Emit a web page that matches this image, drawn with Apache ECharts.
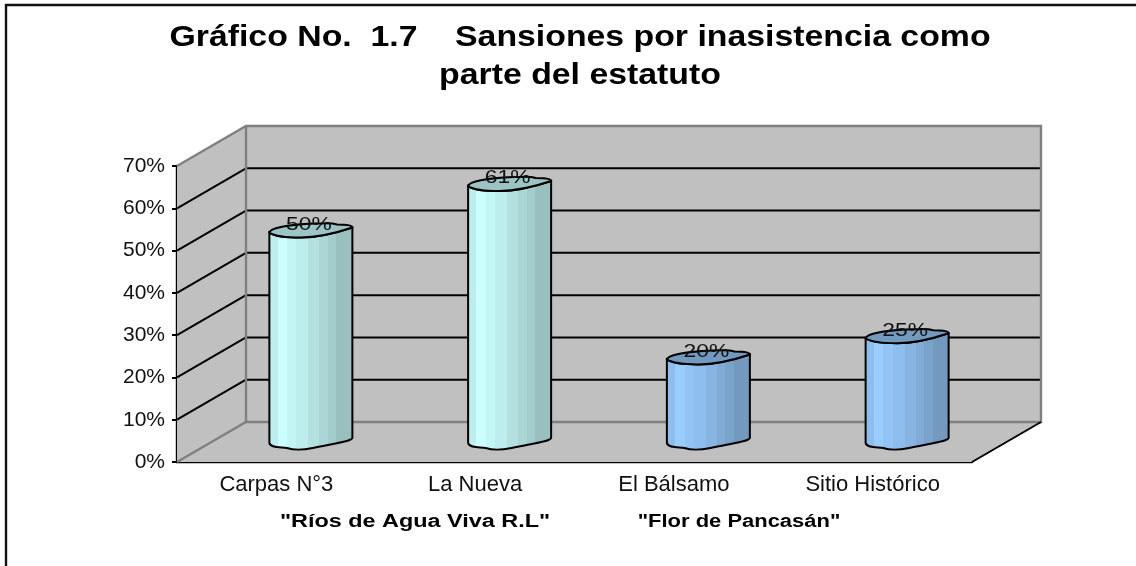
<!DOCTYPE html>
<html>
<head>
<meta charset="utf-8">
<title>Sansiones por inasistencia</title>
<style>
  html, body { margin: 0; padding: 0; background: #fff; }
  #chart { width: 1136px; height: 566px; }
</style>
</head>
<body>
<div id="chart"></div>
<script src="https://cdn.jsdelivr.net/npm/echarts@6/dist/echarts.min.js"></script>
<script>
const categories = ['Carpas N°3', 'La Nueva', 'El Bálsamo', 'Sitio Histórico']
const values = [50, 61, 20, 25]
const barKinds = [0, 0, 1, 1]
const yTicks = [10, 20, 30, 40, 50, 60, 70]
const titleText = 'Gráfico No.  1.7    Sansiones por inasistencia como\nparte del estatuto'
const groupNames = ['"Ríos de Agua Viva R.L"', '"Flor de Pancasán"']

const FONT = '"Liberation Sans", Arial, sans-serif'
// corrimiento de la pared del fondo respecto al plano frontal
const DEPTH_X = 69
const DEPTH_Y = -40
const BAR_HALF = 41.5
const bodyStripes = [
  [0.93, 0.11], [1, 0.22], [0.96, 0.33], [0.93, 0.47],
  [0.88, 0.6], [0.84, 0.7], [0.8, 0.8], [0.75, 1]
]
const palette = [
  { base: [204, 255, 255], top: '#9CC4C4' },
  { base: [153, 204, 255], top: '#7399BF' }
]

function stripedFill(base) {
  const stops = []
  let from = 0
  bodyStripes.forEach(([shade, to]) => {
    const c = 'rgb(' + base.map(v => Math.round(v * shade)).join(',') + ')'
    stops.push({ offset: from, color: c }, { offset: to, color: c })
    from = to
  })
  return { type: 'linear', x: 0, y: 0, x2: 1, y2: 0, colorStops: stops }
}

// paredes, piso y lineas de cuadricula en falsa perspectiva
function renderFrame(params, api) {
  const band = api.size([1, 0])[0]
  const x0 = api.coord([0, 0])[0] - band / 2
  const x1 = x0 + band * categories.length
  const y0 = api.coord([0, 0])[1]
  const yTop = api.coord([0, 70])[1]
  const bx0 = x0 + DEPTH_X
  const bx1 = x1 + DEPTH_X
  const grey = { stroke: '#808080', lineWidth: 2.4 }
  const wall = { fill: '#C0C0C0' }
  const children = [
    { type: 'polygon', shape: { points: [[bx0, yTop + DEPTH_Y], [bx1, yTop + DEPTH_Y], [bx1, y0 + DEPTH_Y], [bx0, y0 + DEPTH_Y]] }, style: wall },
    { type: 'polygon', shape: { points: [[x0, y0], [bx0, y0 + DEPTH_Y], [bx0, yTop + DEPTH_Y], [x0, yTop]] }, style: wall },
    { type: 'polygon', shape: { points: [[x0, y0], [x1, y0], [bx1, y0 + DEPTH_Y], [bx0, y0 + DEPTH_Y]] }, style: wall }
  ]
  yTicks.slice(0, -1).forEach(t => {
    const y = api.coord([0, t])[1]
    const line = { stroke: '#000', lineWidth: 2 }
    children.push(
      { type: 'line', shape: { x1: x0, y1: y, x2: bx0, y2: y + DEPTH_Y }, style: line },
      { type: 'line', shape: { x1: bx0, y1: y + DEPTH_Y, x2: bx1, y2: y + DEPTH_Y }, style: line }
    )
  })
  children.push(
    { type: 'polyline', shape: { points: [[x0, yTop], [bx0, yTop + DEPTH_Y], [bx1, yTop + DEPTH_Y], [bx1, y0 + DEPTH_Y], [bx0, y0 + DEPTH_Y], [x0, y0]] }, style: Object.assign({ fill: 'none' }, grey) },
    { type: 'line', shape: { x1: bx0, y1: yTop + DEPTH_Y, x2: bx0, y2: y0 + DEPTH_Y }, style: grey },
    { type: 'line', shape: { x1: x1, y1: y0, x2: bx1, y2: y0 + DEPTH_Y }, style: { stroke: '#000', lineWidth: 2 } }
  )
  return { type: 'group', children }
}

function renderCylinder(params, api) {
  const i = api.value(0)
  const v = api.value(1)
  const cx = api.coord([i, 0])[0] + DEPTH_X / 2
  const yb = api.coord([i, 0])[1] + DEPTH_Y / 2
  const yt = api.coord([i, v])[1] + DEPTH_Y / 2
  const l = cx - BAR_HALF
  const r = cx + BAR_HALF
  const colors = palette[barKinds[i]]
  const outline = { stroke: '#000', lineWidth: 2 }
  const body = [
    'M', l, yt + 2,
    'C', l + 6, yt + 6, cx - 24, yt + 7, cx - 10, yt + 7,
    'C', cx + 8, yt + 7, r - 12, yt + 1, r, yt - 3,
    'L', r, yb - 4,
    'C', r - 1, yb - 1, r - 10, yb, cx + 2, yb + 6,
    'C', cx - 8, yb + 8, cx - 18, yb + 8, cx - 24, yb + 6,
    'C', cx - 30, yb + 5, l + 1, yb + 6, l, yb + 1,
    'Z'
  ].join(' ')
  const cap = [
    'M', l, yt + 2,
    'C', l + 1, yt - 3, cx - 20, yt - 6, cx + 4, yt - 7,
    'C', cx + 14, yt - 7, cx + 20, yt - 8, cx + 26, yt - 6,
    'C', cx + 32, yt - 6, r, yt - 6, r, yt - 3,
    'C', r - 12, yt + 1, cx + 8, yt + 7, cx - 10, yt + 7,
    'C', cx - 24, yt + 7, l + 6, yt + 6, l, yt + 2,
    'Z'
  ].join(' ')
  return {
    type: 'group',
    children: [
      { type: 'path', shape: { pathData: body }, style: Object.assign({ fill: stripedFill(colors.base) }, outline) },
      { type: 'path', shape: { pathData: cap }, style: Object.assign({ fill: colors.top }, outline) },
      {
        type: 'text',
        x: cx - 2,
        y: yt - 6,
        scaleX: 1.2,
        style: { text: v + '%', font: '19px ' + FONT, fill: '#111', textAlign: 'center', textVerticalAlign: 'middle' }
      }
    ]
  }
}

let myChart = echarts.init(document.getElementById('chart'))
let options = {
  animation: false,
  backgroundColor: '#fff',
  grid: { left: 177, right: 164, top: 166, bottom: 104 },
  xAxis: {
    type: 'category',
    data: categories,
    axisLine: { lineStyle: { color: '#000', width: 2.4 } },
    axisTick: { alignWithLabel: false, length: 4, lineStyle: { color: '#000', width: 2 } },
    axisLabel: { fontFamily: FONT, fontSize: 22, color: '#111', margin: 12 }
  },
  yAxis: {
    type: 'value',
    min: 0,
    max: 70,
    interval: 10,
    axisLine: { show: true, lineStyle: { color: '#000', width: 2.4 } },
    axisTick: { show: true, length: 5, lineStyle: { color: '#000', width: 2 } },
    axisLabel: { fontFamily: FONT, fontSize: 21, color: '#111', margin: 12, padding: [4, 0, 0, 0], formatter: '{value}%' },
    splitLine: { show: false }
  },
  series: [
    { type: 'custom', silent: true, z: 1, renderItem: renderFrame, data: [[0, 0]], encode: { x: 0, y: 1 }, clip: false },
    { type: 'custom', silent: true, z: 3, renderItem: renderCylinder, data: values.map((v, i) => [i, v]), encode: { x: 0, y: 1 }, clip: false }
  ],
  graphic: [
    { type: 'polyline', silent: true, shape: { points: [[6, 566], [6, 5], [1136, 5]] }, style: { fill: 'none', stroke: '#111', lineWidth: 2.4 } },
    {
      type: 'text', silent: true, x: 580, y: 57, scaleX: 1.127,
      style: { text: titleText, font: 'bold 30px ' + FONT, fill: '#000', textAlign: 'center', textVerticalAlign: 'middle', lineHeight: 38 }
    },
    {
      type: 'text', silent: true, x: 415, y: 522, scaleX: 1.3,
      style: { text: groupNames[0], font: 'bold 18px ' + FONT, fill: '#000', textAlign: 'center', textVerticalAlign: 'middle' }
    },
    {
      type: 'text', silent: true, x: 739, y: 522, scaleX: 1.22,
      style: { text: groupNames[1], font: 'bold 18px ' + FONT, fill: '#000', textAlign: 'center', textVerticalAlign: 'middle' }
    }
  ]
}
myChart.setOption(options)
</script>
</body>
</html>
